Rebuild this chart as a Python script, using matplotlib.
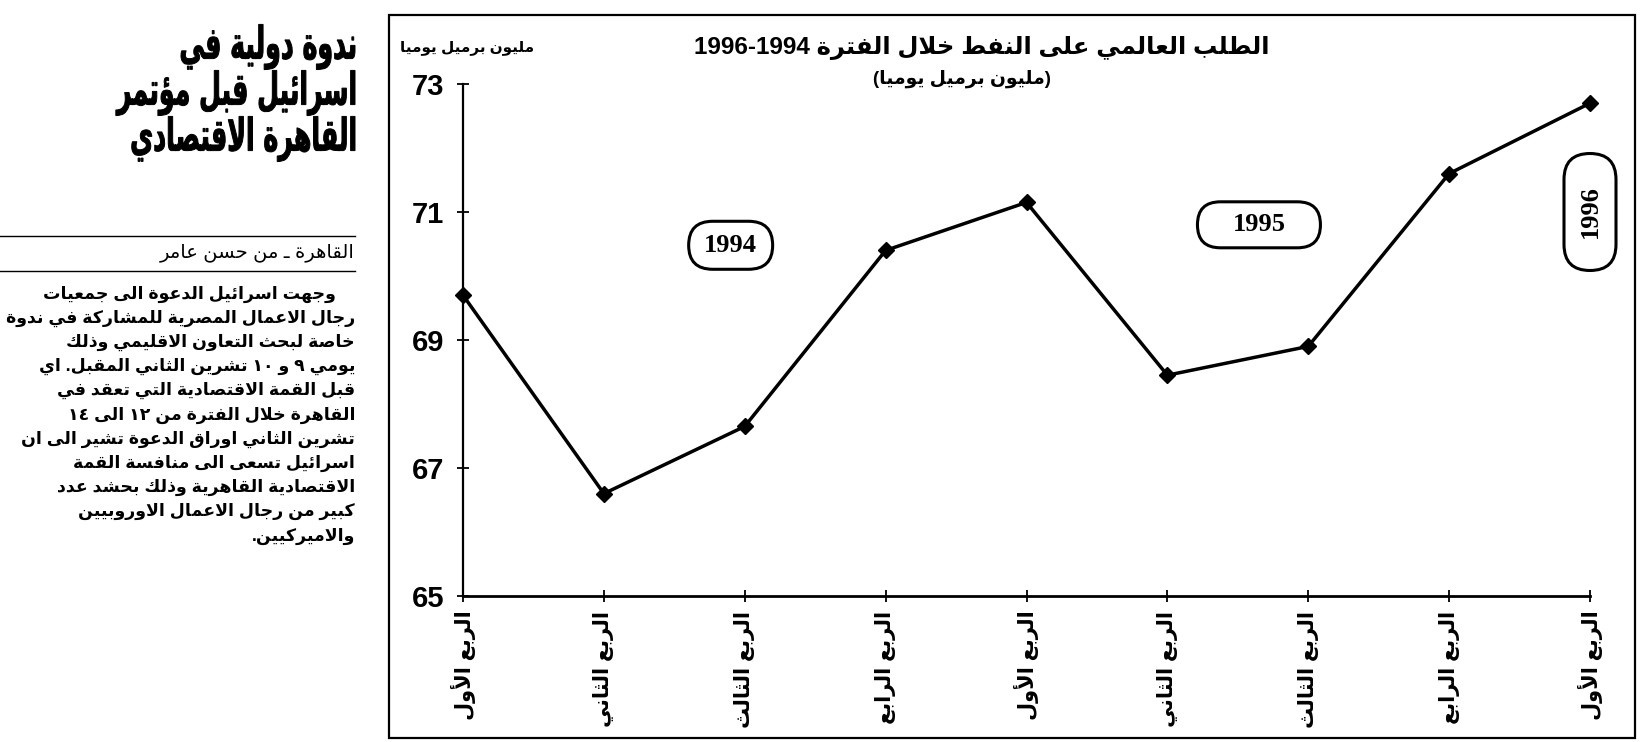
import re
import matplotlib
matplotlib.use('Agg')
import matplotlib.pyplot as plt
from matplotlib.patches import Rectangle, FancyBboxPatch, PathPatch
from matplotlib.lines import Line2D
from matplotlib.textpath import TextPath
from matplotlib.font_manager import FontProperties
from matplotlib.transforms import Affine2D, ScaledTranslation

quarters = ['الربع الأول', 'الربع الثاني', 'الربع الثالث', 'الربع الرابع',
            'الربع الأول', 'الربع الثاني', 'الربع الثالث', 'الربع الرابع',
            'الربع الأول']
demand = [69.7, 66.6, 67.65, 70.4, 71.15, 68.45, 68.9, 71.6, 72.7]
yticks = [65, 67, 69, 71, 73]
years = ['1994', '1995', '1996']

title = 'الطلب العالمي على النفط خلال الفترة 1994-1996'
subtitle = '(مليون برميل يوميا)'
unit = 'مليون برميل يوميا'

headline = ['ندوة دولية في', 'اسرائيل قبل مؤتمر', 'القاهرة الاقتصادي']
byline = 'القاهرة ـ من حسن عامر'
body = [
    'وجهت اسرائيل الدعوة الى جمعيات',
    'رجال الاعمال المصرية للمشاركة في ندوة',
    'خاصة لبحث التعاون الاقليمي وذلك',
    'يومي ٩ و ١٠ تشرين الثاني المقبل. اي',
    'قبل القمة الاقتصادية التي تعقد في',
    'القاهرة خلال الفترة من ١٢ الى ١٤',
    'تشرين الثاني اوراق الدعوة تشير الى ان',
    'اسرائيل تسعى الى منافسة القمة',
    'الاقتصادية القاهرية وذلك بحشد عدد',
    'كبير من رجال الاعمال الاوروبيين',
    'والاميركيين.',
]

# matplotlib has no arabic shaping, so pick the presentation forms by hand
# (isolated form codepoint, number of forms)
FORMS = {
    'ء': (0xFE80, 1), 'آ': (0xFE81, 2), 'أ': (0xFE83, 2), 'ؤ': (0xFE85, 2),
    'إ': (0xFE87, 2), 'ئ': (0xFE89, 4), 'ا': (0xFE8D, 2), 'ب': (0xFE8F, 4),
    'ة': (0xFE93, 2), 'ت': (0xFE95, 4), 'ث': (0xFE99, 4), 'ج': (0xFE9D, 4),
    'ح': (0xFEA1, 4), 'خ': (0xFEA5, 4), 'د': (0xFEA9, 2), 'ذ': (0xFEAB, 2),
    'ر': (0xFEAD, 2), 'ز': (0xFEAF, 2), 'س': (0xFEB1, 4), 'ش': (0xFEB5, 4),
    'ص': (0xFEB9, 4), 'ض': (0xFEBD, 4), 'ط': (0xFEC1, 4), 'ظ': (0xFEC5, 4),
    'ع': (0xFEC9, 4), 'غ': (0xFECD, 4), 'ف': (0xFED1, 4), 'ق': (0xFED5, 4),
    'ك': (0xFED9, 4), 'ل': (0xFEDD, 4), 'م': (0xFEE1, 4), 'ن': (0xFEE5, 4),
    'ه': (0xFEE9, 4), 'و': (0xFEED, 2), 'ى': (0xFEEF, 2), 'ي': (0xFEF1, 4),
}
LAM_ALEF = {'آ': 0xFEF5, 'أ': 0xFEF7, 'إ': 0xFEF9, 'ا': 0xFEFB}
MIRROR = {'(': ')', ')': '('}


def shape(text):
    out = []
    i = 0
    while i < len(text):
        c = text[i]
        prev = text[i - 1] if i > 0 else ' '
        nxt = text[i + 1] if i + 1 < len(text) else ' '
        linked = FORMS.get(prev, (0, 0))[1] == 4 or prev == 'ـ'
        if c == 'ل' and nxt in LAM_ALEF:
            out.append(chr(LAM_ALEF[nxt] + int(linked)))
            i += 2
            continue
        if c in FORMS:
            base, n = FORMS[c]
            after = n == 4 and (FORMS.get(nxt, (0, 0))[1] >= 2 or nxt == 'ـ')
            before = n >= 2 and linked
            if after and before:
                k = 3
            elif after:
                k = 2
            elif before:
                k = 1
            else:
                k = 0
            out.append(chr(base + k))
        else:
            out.append(c)
        i += 1
    # right to left, numbers keep their own order
    runs = re.findall(r'[0-9٠-٩]+|[^0-9٠-٩]+', ''.join(out))
    vis = []
    for r in reversed(runs):
        if r[0].isdigit():
            vis.append(r)
        else:
            vis.append(''.join(MIRROR.get(ch, ch) for ch in reversed(r)))
    return ''.join(vis)


plt.rcParams['font.family'] = ['Liberation Sans', 'DejaVu Sans']

W, H = 1647, 742
fig = plt.figure(figsize=(W / 100, H / 100), dpi=100)


def px(x, y):
    return x / W, 1 - y / H


# chart
ax = fig.add_axes([463 / W, 1 - 596 / H, (1590 - 463) / W, (596 - 84) / H])
ax.set_xlim(0, len(demand) - 1)
ax.set_ylim(65, 73)
ax.plot(range(len(demand)), demand, color='black', lw=2.5,
        marker='D', ms=8, clip_on=False, zorder=3)
ax.set_yticks(yticks)
ax.set_yticklabels([str(v) for v in yticks], fontsize=21, fontweight='bold')
ax.set_xticks(range(len(quarters)))
ax.set_xticklabels([shape(q) for q in quarters], rotation=90,
                   fontsize=15, fontweight='bold')
ax.tick_params(direction='inout', length=9, width=1.3)
ax.tick_params(axis='x', pad=6)
ax.tick_params(axis='y', pad=9)
for s in ['top', 'right']:
    ax.spines[s].set_visible(False)
ax.spines['left'].set_linewidth(1.6)
ax.spines['bottom'].set_linewidth(2)


def oval(xd, yd, w, h, text, rot=0):
    # w, h in pixels, centred on a data point
    tr = fig.dpi_scale_trans + ScaledTranslation(xd, yd, ax.transData)
    w, h = w / 100, h / 100
    box = FancyBboxPatch((-w / 2, -h / 2), w, h,
                         boxstyle=f'round,pad=0,rounding_size={min(w, h) / 2}',
                         transform=tr, fc='white', ec='black', lw=2.2,
                         clip_on=False, zorder=4)
    ax.add_patch(box)
    ax.text(xd, yd, text, ha='center', va='center', fontsize=19, rotation=rot,
            fontweight='bold', family='Liberation Serif', zorder=5, clip_on=False)


oval(1.9, 70.48, 84, 48, years[0])
oval(5.65, 70.8, 123, 46, years[1])
oval(8.0, 71.0, 52, 117, years[2], rot=90)

fig.text(*px(982, 48), shape(title), ha='center', va='center', fontsize=17.5, fontweight='bold')
fig.text(*px(962, 79), shape(subtitle), ha='center', va='center', fontsize=13.5, fontweight='bold')
fig.text(*px(467, 48), shape(unit), ha='center', va='center', fontsize=11, fontweight='bold')

# frame round the chart
fig.add_artist(Rectangle(px(389, 738), (1635 - 389) / W, (738 - 15) / H,
                         transform=fig.transFigure, fill=False, lw=1.6, color='black'))

# article column
bold_ar = FontProperties(family='DejaVu Sans', weight='bold')


def condensed(s, right, y, size, sx):
    # the headline face is much narrower than DejaVu, so squeeze the outline
    tp = TextPath((0, 0), shape(s), size=size, prop=bold_ar)
    ext = tp.get_extents()
    tr = Affine2D().translate(-ext.x1, -(ext.y0 + ext.y1) / 2).scale(sx, 1).translate(right, H - y)
    fig.add_artist(PathPatch(tp, transform=tr, fc='black', ec='black', lw=0.7))


for i, line in enumerate(headline):
    condensed(line, 355, 47 + 46 * i, 45, 0.56)

fig.add_artist(Line2D([0, 355 / W], [1 - 236 / H] * 2, color='black', lw=1))
fig.text(*px(355, 253), shape(byline), ha='right', va='center', fontsize=14)
fig.add_artist(Line2D([0, 355 / W], [1 - 271 / H] * 2, color='black', lw=1))
for i, line in enumerate(body):
    x = 336 if i == 0 else 355
    fig.text(*px(x, 294 + 24.2 * i), shape(line), ha='right', va='center',
             fontsize=12.5, fontweight='bold')

fig.savefig('out.png', dpi=100)
